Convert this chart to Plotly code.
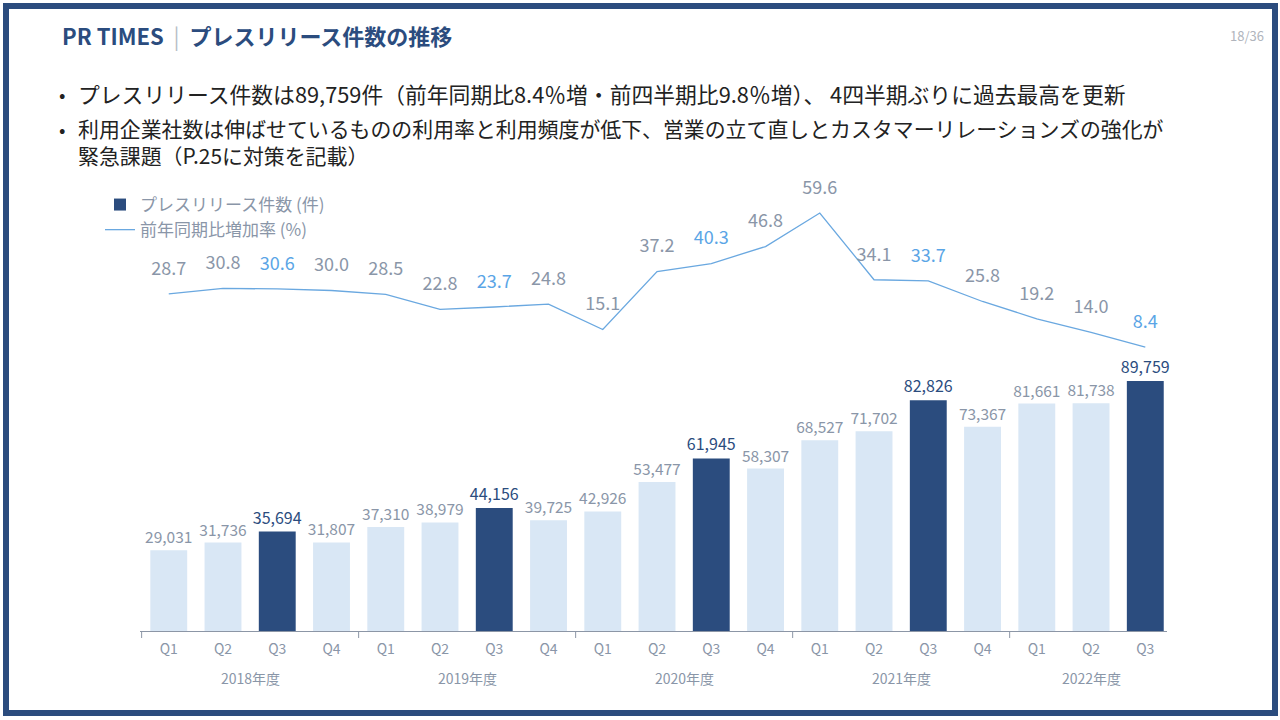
import plotly.graph_objects as go

# ---- data ----
years = ["2018年度", "2019年度", "2020年度", "2021年度", "2022年度"]
quarters = ["Q1", "Q2", "Q3", "Q4", "Q1", "Q2", "Q3", "Q4", "Q1", "Q2", "Q3", "Q4",
            "Q1", "Q2", "Q3", "Q4", "Q1", "Q2", "Q3"]
year_of = ["2018年度"] * 4 + ["2019年度"] * 4 + ["2020年度"] * 4 + ["2021年度"] * 4 + ["2022年度"] * 3
releases = [29031, 31736, 35694, 31807, 37310, 38979, 44156, 39725, 42926, 53477,
            61945, 58307, 68527, 71702, 82826, 73367, 81661, 81738, 89759]
yoy_growth = [28.7, 30.8, 30.6, 30.0, 28.5, 22.8, 23.7, 24.8, 15.1, 37.2,
              40.3, 46.8, 59.6, 34.1, 33.7, 25.8, 19.2, 14.0, 8.4]

title_main = "プレスリリース件数の推移"
bullet1 = "プレスリリース件数は89,759件（前年同期比8.4％増・前四半期比9.8％増）、 4四半期ぶりに過去最高を更新"
bullet2 = ["利用企業社数は伸ばせているものの利用率と利用頻度が低下、営業の立て直しとカスタマーリレーションズの強化が",
           "緊急課題（P.25に対策を記載）"]
legend_bar = "プレスリリース件数 (件)"
legend_line = "前年同期比増加率 (%)"
page_no = "18/36"

# ---- styles ----
NAVY = "#2B4C7E"
LIGHT = "#D9E7F5"
LINE = "#6AA8E0"
GRAY = "#8A96A8"
HL = "#5AA5E6"
FONT = "Noto Sans CJK JP"
BAR_W = 0.68

W, H = 1280, 720
L, R, T, B = 140, 113, 190, 89
PW, PH = W - L - R, H - T - B

def px(xp):
    return (xp - L) / PW

def py(yp):
    return (H - B - yp) / PH

x = list(range(len(quarters)))
is_q3 = [q == "Q3" for q in quarters]

hx = [x[i] for i in x if is_q3[i]]
hy = [releases[i] for i in x if is_q3[i]]
ox = [x[i] for i in x if not is_q3[i]]
oy = [releases[i] for i in x if not is_q3[i]]
line_text_colors = [HL if h else GRAY for h in is_q3]

fig = go.Figure()
fig.add_trace(go.Bar(
    x=hx, y=hy, name=legend_bar, showlegend=True, width=BAR_W,
    marker=dict(color=NAVY, line=dict(width=0)),
    text=[f"{v:,}" for v in hy], textposition="outside", constraintext="none",
    textfont=dict(color=NAVY, size=16, family=FONT),
    cliponaxis=False, yaxis="y",
))
fig.add_trace(go.Bar(
    x=ox, y=oy, name=legend_bar, showlegend=False, width=BAR_W,
    marker=dict(color=LIGHT, line=dict(width=0)),
    text=[f"{v:,}" for v in oy], textposition="outside", constraintext="none",
    textfont=dict(color=GRAY, size=15.5, family=FONT),
    cliponaxis=False, yaxis="y",
))
fig.add_trace(go.Scatter(
    x=x, y=yoy_growth, name=legend_line, mode="lines+markers+text",
    line=dict(color=LINE, width=1.3),
    marker=dict(size=22, color="rgba(0,0,0,0)"),
    text=[f"{v:.1f}" for v in yoy_growth], textposition="top center",
    textfont=dict(color=line_text_colors, size=18, family=FONT),
    cliponaxis=False, yaxis="y2",
))

bar_max = 89759
bar_top = (H - B - T) * bar_max / 250.0
fig.update_layout(
    width=W, height=H,
    margin=dict(l=L, r=R, t=T, b=B),
    paper_bgcolor="white", plot_bgcolor="white",
    font=dict(family=FONT, color=GRAY),
    barmode="overlay",
    showlegend=True,
    legend=dict(x=px(100), y=py(187), xanchor="left", yanchor="top",
                font=dict(size=17, color=GRAY, family=FONT),
                bgcolor="rgba(0,0,0,0)", tracegroupgap=0, itemwidth=30,
                traceorder="normal"),
    xaxis=dict(range=[-0.53, len(quarters) - 0.6], tickvals=x, ticktext=quarters,
               showgrid=False, zeroline=False, showline=True, linecolor="#8C96A6",
               linewidth=1, ticks="", ticklabelstandoff=5,
               tickfont=dict(size=14, color=GRAY, family=FONT)),
    yaxis=dict(range=[0, bar_top], visible=False, showgrid=False),
    yaxis2=dict(range=[-100.1, 68.4], overlaying="y", visible=False, showgrid=False),
)

# year group labels and dividers
shapes = []
annotations = []
for yr in years:
    idx = [i for i, v in enumerate(year_of) if v == yr]
    c = sum(idx) / len(idx)
    annotations.append(dict(x=c, y=py(678), xref="x", yref="paper", text=yr,
                            showarrow=False, font=dict(size=14, color=GRAY, family=FONT),
                            yanchor="middle"))
    shapes.append(dict(type="line", xref="x", yref="paper", x0=idx[0] - 0.5, x1=idx[0] - 0.5,
                       y0=0, y1=py(638), line=dict(color="#8C96A6", width=1)))

# frame
shapes.append(dict(type="rect", xref="paper", yref="paper", x0=px(6), x1=px(1275),
                   y0=py(6), y1=py(713), line=dict(color=NAVY, width=6), layer="above"))

# title
annotations.append(dict(
    x=px(60), y=py(35), xref="paper", yref="paper", xanchor="left", yanchor="middle",
    showarrow=False,
    text=f"<b>PR TIMES</b>  <span style='color:#B8BEC8;font-weight:normal'>|</span>  <b>{title_main}</b>",
    font=dict(size=22, color=NAVY, family=FONT)))
annotations.append(dict(
    x=px(1266), y=py(35), xref="paper", yref="paper", xanchor="right", yanchor="middle",
    showarrow=False, text=page_no, font=dict(size=13, color="#B0B4BC", family=FONT)))

# bullets
for yy in [93, 129]:
    annotations.append(dict(x=px(57), y=py(yy), xref="paper", yref="paper", xanchor="left",
                            yanchor="middle", showarrow=False, text="•",
                            font=dict(size=19, color="#222222", family=FONT)))
annotations.append(dict(x=px(76), y=py(93), xref="paper", yref="paper", xanchor="left",
                        yanchor="middle", showarrow=False, text=bullet1,
                        font=dict(size=21.8, color="#222222", family=FONT)))
annotations.append(dict(x=px(76), y=py(111), xref="paper", yref="paper", xanchor="left",
                        yanchor="top", align="left", showarrow=False,
                        text="<br>".join(bullet2),
                        font=dict(size=20.9, color="#222222", family=FONT)))

fig.update_layout(shapes=shapes, annotations=annotations)
fig.write_html("out.html", post_script="document.body.style.margin='0';",
               config={"displayModeBar": False})
